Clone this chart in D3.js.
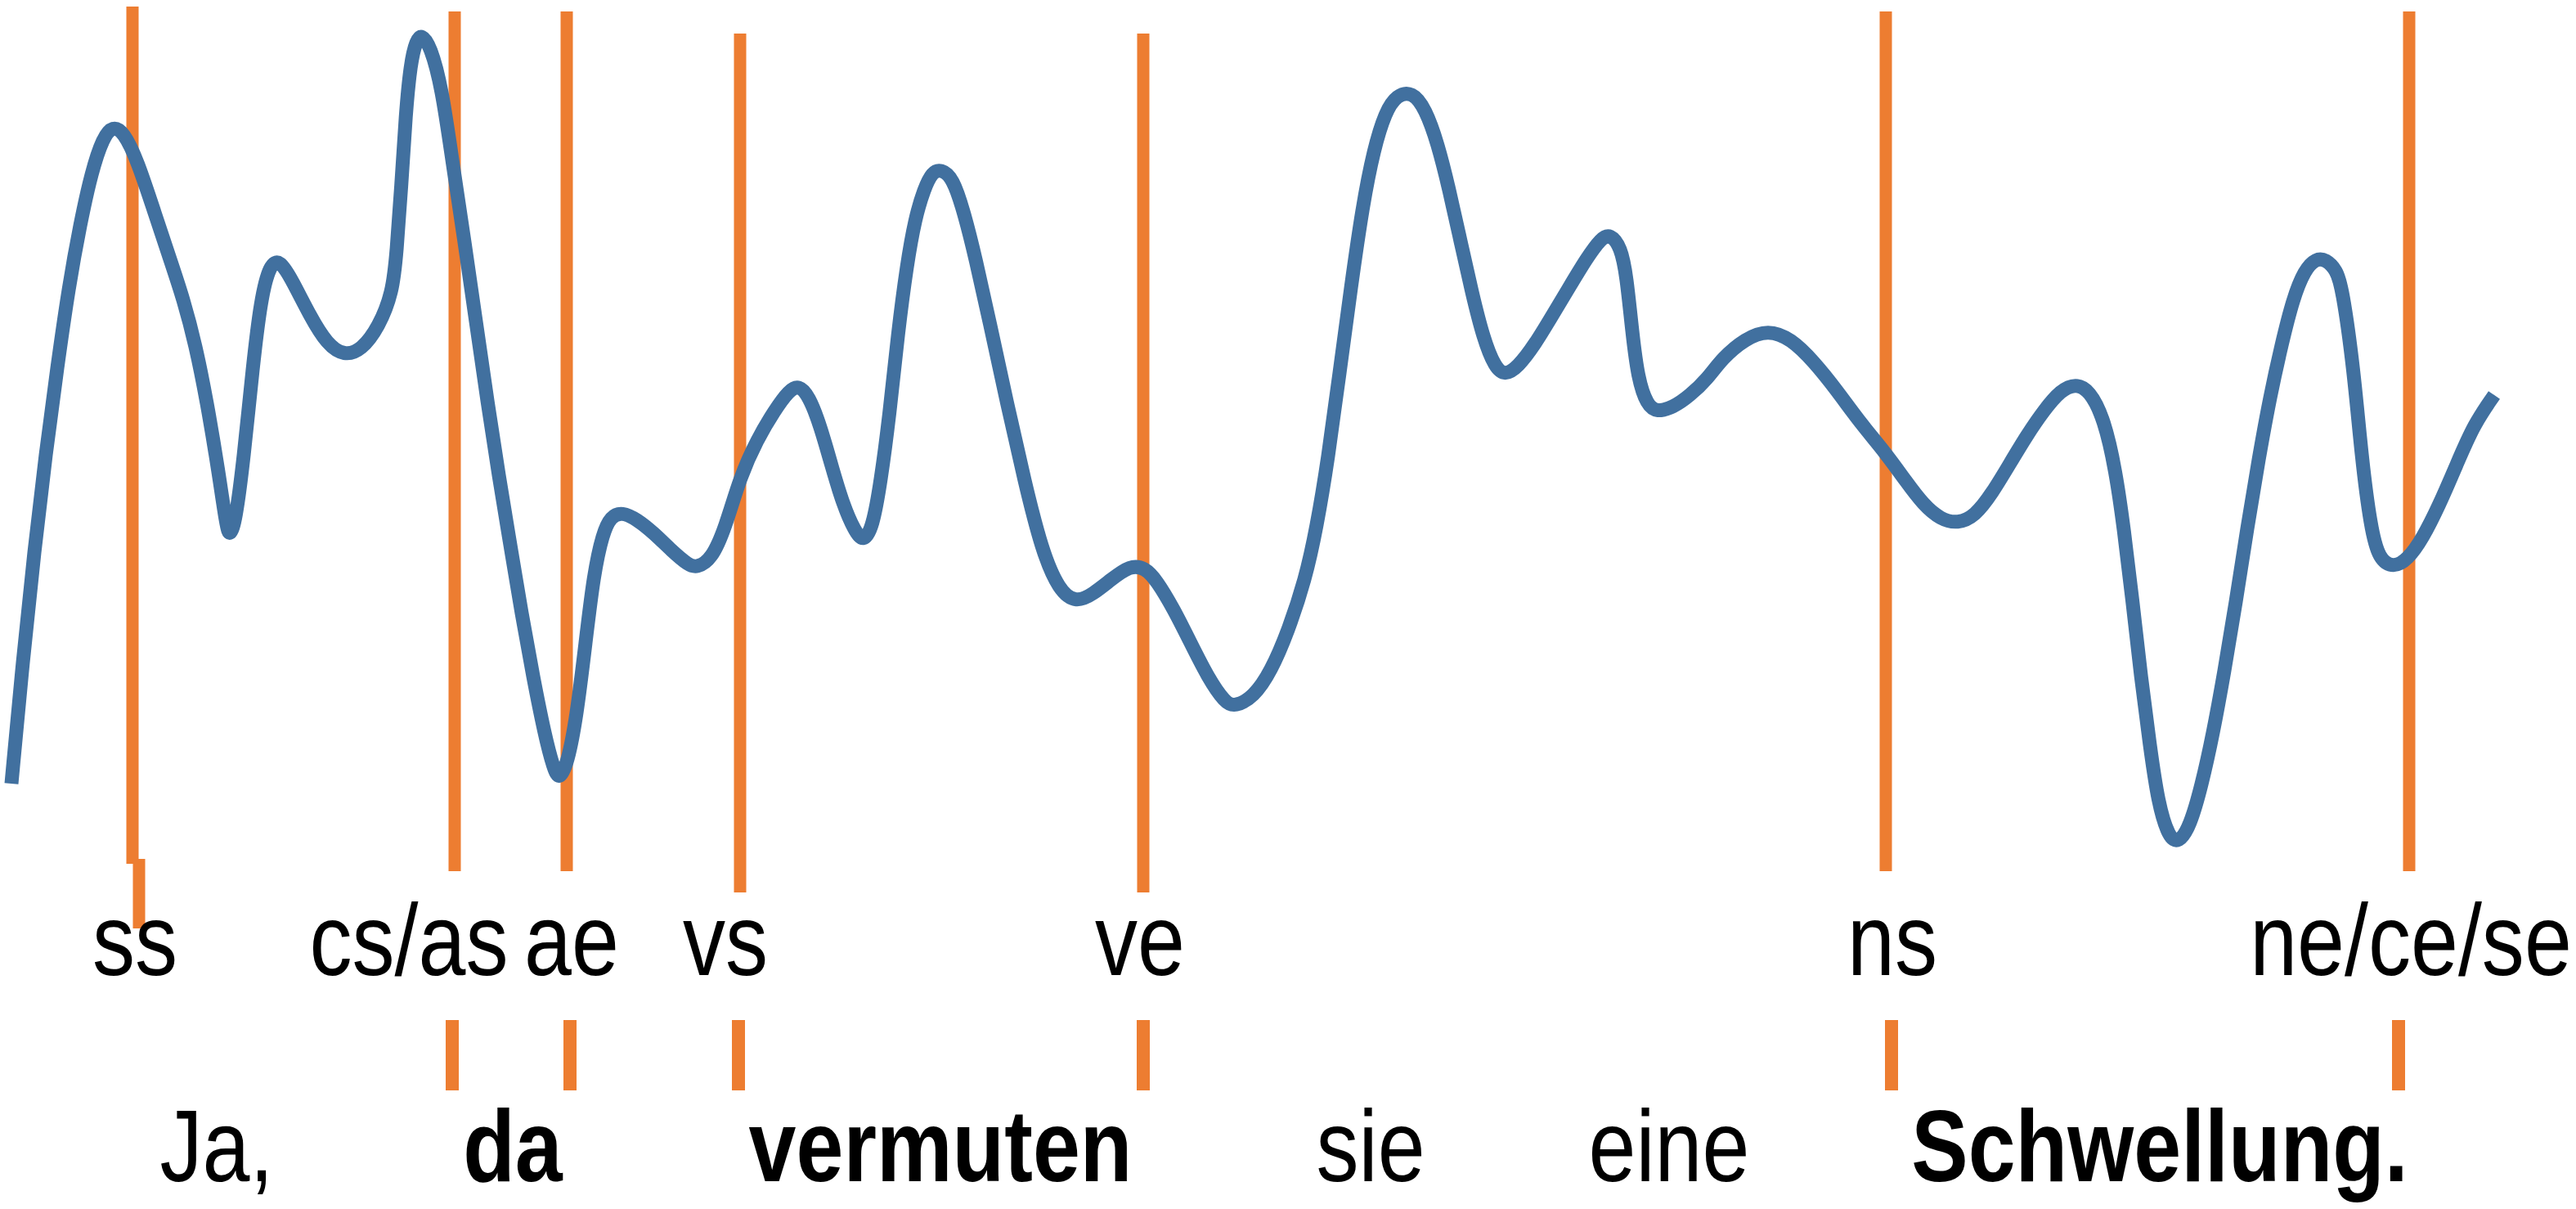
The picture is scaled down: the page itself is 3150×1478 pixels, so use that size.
<!DOCTYPE html>
<html>
<head>
<meta charset="utf-8">
<script src="https://cdn.jsdelivr.net/npm/d3@7"></script>
<style>
  html, body { margin: 0; padding: 0; background: #fff; }
  svg { display: block; }
</style>
</head>
<body>
<svg id="chart" width="3150" height="1478"></svg>
<script>
// ---- data (time in ms, pitch contour in arbitrary Hz-like units) ----
const contourTime = [7,14,21,28,35,42,49,56,63,69,75.5,84,94.5,105,112,119.5,126.5,133.5,138.5,140.5,144,149,154.5,159.5,165,171,179,189.5,200,210.5,221,231.5,240,242.5,245.5,248,251,254.5,258,263,270,277,284,291,298,305,312,319,326,333,338.5,342,347,352.5,358,363,368.5,373.5,380.5,389.5,400,410.5,421,426,435,443.5,452.5,463,473.5,482.5,488.5,494.5,501.5,508.5,515.5,522.5,528,533.5,538.5,544,549,554.5,559.5,565,570,575.5,582.5,589.5,596.5,605,615.5,626.5,637,647.5,658,668.5,679,691,700,707,717.5,728,738.5,749,755,766.5,777,787.5,798,805,812,819,826,833,840,847,854,863.5,871.5,879,886,893,900,907,914,920,928,938.5,949,959.5,970,979,984.5,991,994.5,998,1001.5,1007,1013,1023,1033,1044,1053,1067,1081,1095,1109,1123,1137,1153,1165.5,1176,1186.5,1197,1207.5,1218,1228.5,1239,1249.5,1260,1269,1277.5,1286.5,1293.5,1298.5,1304,1309,1314.5,1319.5,1326,1332,1339,1346,1353,1360,1367,1374,1381,1388,1395,1402,1409,1416,1422,1428.5,1432,1439,1444,1449.5,1454.5,1463.5,1472,1481,1491.5,1502,1512.5,1525];
const contourValue = [108.4,138.6,165.4,189.2,210.2,229.8,245.2,258,266.4,269.2,267.8,260.8,248,235.4,227,215.8,201.8,185,171,168.8,172.4,187.8,210.2,227,235.4,236.6,231.2,222.8,215.8,213,214.4,220,228.4,238.2,255.2,272,284.6,290.2,291.6,288.8,279,259.4,241,221.4,201.8,183.6,166.8,149.8,134.4,120.4,112,109.2,113.4,124.6,142.8,159.6,169.6,173.8,174.8,173,169.6,165.4,161.8,161.2,163.2,171,183.4,192.6,199.6,204.6,205.8,203.2,196,186,176.6,170.2,167.4,171,182.2,199,218.6,235.4,246.6,253.8,258,258.6,256.6,248,236.8,221.4,201.8,182.2,165.4,155.6,152.6,154.8,158.2,161.8,161.2,158.2,151.2,142.8,134.4,128.2,127.2,129.6,135.8,145.6,158.2,171,187.8,208.8,229.8,249.4,263.6,272.6,276.8,277.6,273.4,265,253.8,241,228.4,217.2,210.2,208.2,210.2,215.8,222.8,229.8,236.8,241.8,242.8,239.6,232.6,218.6,207.4,201,199.2,200.4,203.2,207.4,212.4,217.2,219.4,217.2,211.6,204.6,196.8,189.2,182.2,176.6,173,172,173.8,179.4,186.4,193.4,199.6,204.6,206.2,204.6,197.6,185,171,152.6,134.4,117.6,103.6,95.2,93.8,98,107.8,120.4,135.8,152.6,171,187.8,203.2,215.8,227,234,236.8,236.6,234,229.8,210.2,187.8,171,163.2,161.2,163.2,168.2,176.6,186.4,196.2,203.4];

// boundary annotations
const boundaryLabels = ["ss", "cs/as", "ae", "vs", "ve", "ns", "ne/ce/se"];
const boundaryTimes  = [81, 278, 346.5, 452.5, 699, 1153, 1473];
const boundaryTop    = [298.4, 297.2, 297.2, 291.8, 291.8, 297.2, 297.2];
const boundaryBottom = [88.8, 87, 87, 81.8, 81.8, 87, 87];
const labelTimes     = [82.5, 250, 349.5, 443.5, 697, 1157, 1474];

// short word-boundary ticks
const tickTimes = [276.5, 348.5, 451.5, 699, 1156.5, 1466.5];

// words of the utterance
const words     = ["Ja,", "da", "vermuten", "sie", "eine", "Schwellung."];
const wordTimes = [132.5, 313.5, 575, 838, 1020.5, 1320.5];
const wordBold  = [false, true, true, false, false, true];

// ---- scales ----
const svg = d3.select("#chart");
const x = d3.scaleLinear().domain([0, 1575]).range([0, 3150]);
const y = d3.scaleLinear().domain([0, 300]).range([1500, 0]);

const ORANGE = "#ED7D31";
const BLUE = "#41709F";
const FONT = "'Liberation Sans', Arial, Helvetica, sans-serif";
const FS = 124, SX = 0.84;

// long boundary lines
svg.append("g").selectAll("line").data(boundaryTimes).join("line")
  .attr("x1", d => x(d)).attr("x2", d => x(d))
  .attr("y1", (d, i) => y(boundaryTop[i])).attr("y2", (d, i) => y(boundaryBottom[i]))
  .attr("stroke", ORANGE).attr("stroke-width", 15);

// small jog under the first line
svg.append("line")
  .attr("x1", x(85)).attr("x2", x(85))
  .attr("y1", y(90)).attr("y2", y(73))
  .attr("stroke", ORANGE).attr("stroke-width", 15);

// short ticks between the label rows
svg.append("g").selectAll("line").data(tickTimes).join("line")
  .attr("x1", d => x(d)).attr("x2", d => x(d))
  .attr("y1", y(50.6)).attr("y2", y(33.4))
  .attr("stroke", ORANGE).attr("stroke-width", 16);

// pitch contour (smoothed)
const pts = contourTime.map((t, i) => [t, contourValue[i]]);
const line = d3.line().x(d => x(d[0])).y(d => y(d[1])).curve(d3.curveBasis);
svg.append("path").datum(pts)
  .attr("d", line)
  .attr("fill", "none").attr("stroke", BLUE).attr("stroke-width", 17)
  .attr("stroke-linejoin", "round").attr("stroke-linecap", "butt");

// boundary labels
svg.append("g").selectAll("text").data(boundaryLabels).join("text")
  .attr("transform", (d, i) => `translate(${x(labelTimes[i])},${y(61.6)}) scale(${SX},1)`)
  .attr("text-anchor", "middle")
  .attr("font-family", FONT).attr("font-size", FS).attr("fill", "#000")
  .text(d => d);

// words
svg.append("g").selectAll("text").data(words).join("text")
  .attr("transform", (d, i) => `translate(${x(wordTimes[i])},${y(11.2)}) scale(${SX},1)`)
  .attr("text-anchor", "middle")
  .attr("font-family", FONT).attr("font-size", FS)
  .attr("font-weight", (d, i) => wordBold[i] ? "bold" : "normal")
  .attr("fill", "#000")
  .text(d => d);
</script>
</body>
</html>
